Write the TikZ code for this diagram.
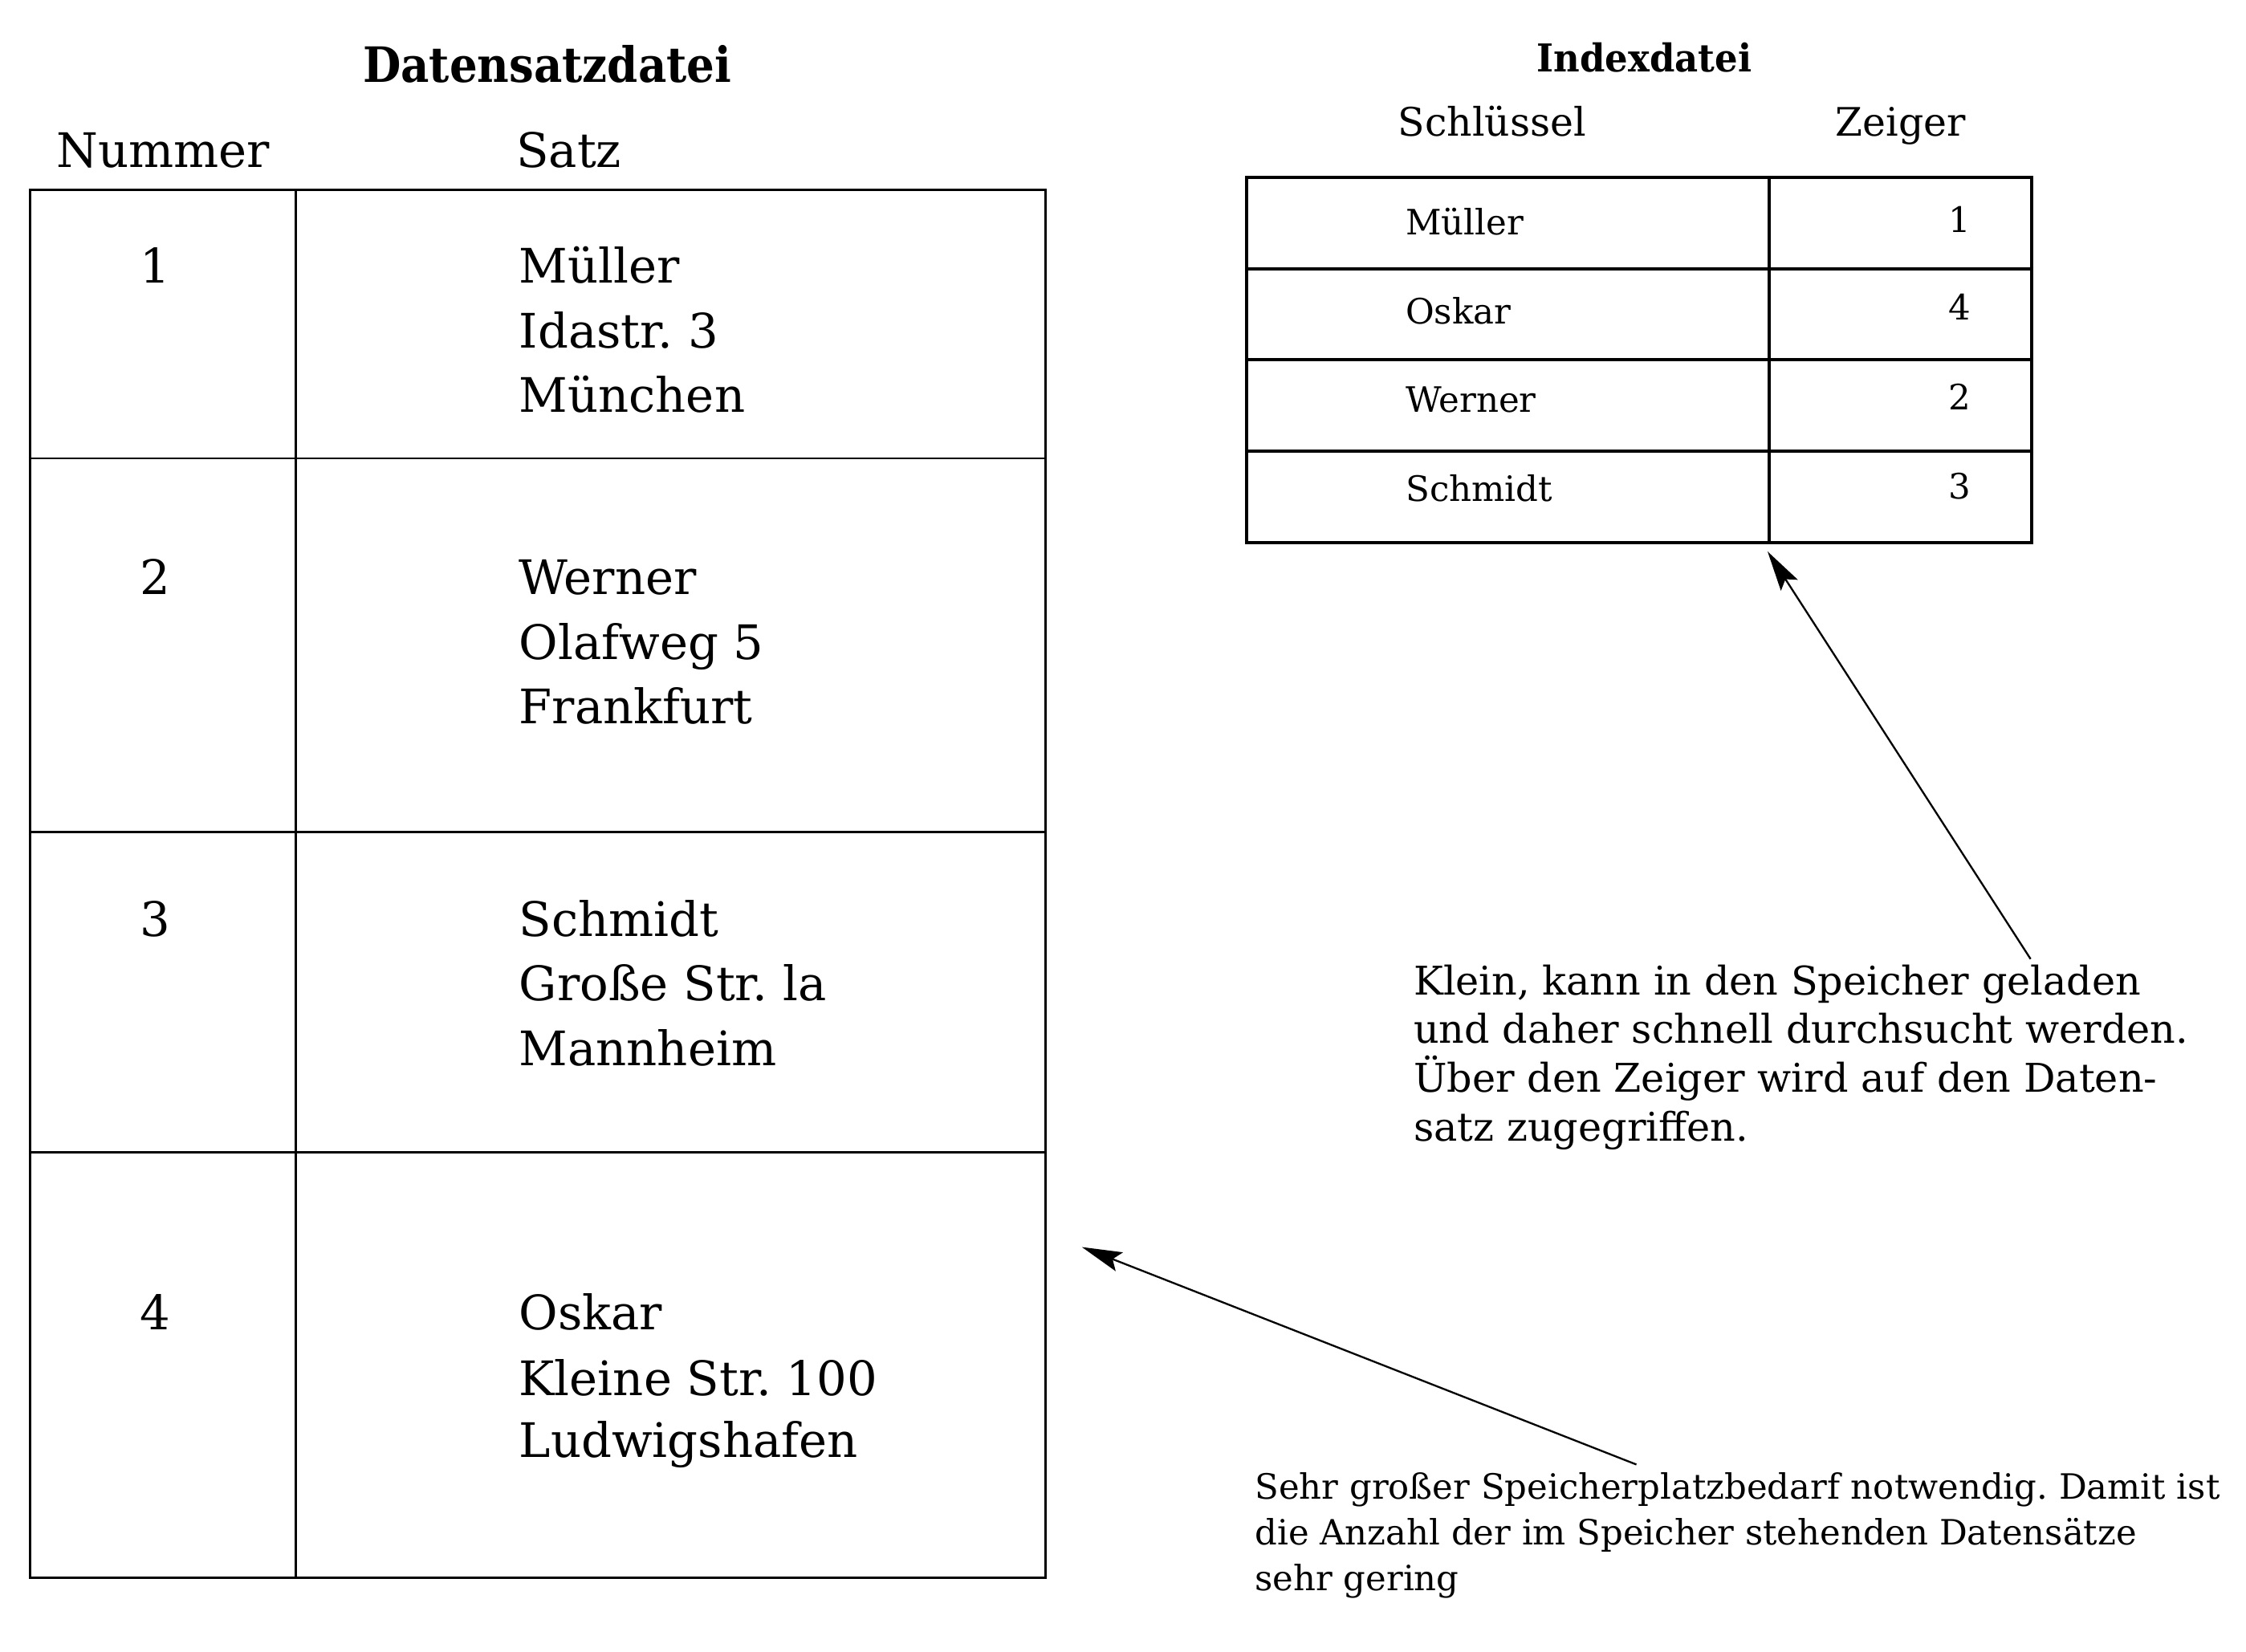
\documentclass[tikz,border=0pt]{standalone}
\usepackage{fontspec}
\setmainfont{DejaVu Serif}
\newfontfamily\titlefont[FakeStretch=0.9]{DejaVu Serif}
\newfontfamily\idxtitlefont[FakeStretch=0.94]{DejaVu Serif}
\usetikzlibrary{arrows.meta}
\frenchspacing
\begin{document}
\begin{tikzpicture}[x=0.5pt,y=-0.5pt,
  cellL/.style={draw, line width=0.8pt, inner sep=0pt, anchor=north west, minimum width=#1},
  cellK/.style={draw, line width=1.1pt, inner sep=0pt, anchor=north west, minimum width=#1, minimum height=31.875pt},
  rec/.style={inner sep=0pt, anchor=base west, font=\fontsize{16.6pt}{22.4pt}\selectfont},
  num/.style={inner sep=0pt, anchor=base, font=\fontsize{16.6pt}{22.4pt}\selectfont},
  key/.style={inner sep=0pt, anchor=base west, font=\fontsize{12.2pt}{15pt}\selectfont},
  ptr/.style={inner sep=0pt, anchor=base, font=\fontsize{12.2pt}{15pt}\selectfont},
  head/.style={inner sep=0pt, anchor=base west, font=\fontsize{13.7pt}{16pt}\selectfont},
  noteA/.style={inner sep=0pt, anchor=base west, font=\fontsize{13.8pt}{17pt}\selectfont},
  noteB/.style={inner sep=0pt, anchor=base west, font=\fontsize{12.15pt}{16pt}\selectfont},
  arr/.style={line width=0.65pt, -{Stealth[length=14pt,width=7pt,inset=2.5pt]}}
]
\useasboundingbox (0,0) rectangle (1568,1153);

% ---------- Datensatzdatei ----------
\node[inner sep=0pt, anchor=base] (title1) at (382,57.6)
  {\fontsize{17pt}{20pt}\titlefont\bfseries Datensatzdatei};
\node[rec] (hNum) at (39,117) {Nummer};
\node[rec] (hSatz) at (360,117) {Satz};

\node[cellL=92.75pt, minimum height=93.7pt]   (n1) at (20,131.8) {};
\node[cellL=261.75pt, minimum height=93.7pt]  (r1) at (205.5,131.8) {};
\node[cellL=92.75pt, minimum height=130.5pt]  (n2) at (20,319.2) {};
\node[cellL=261.75pt, minimum height=130.5pt] (r2) at (205.5,319.2) {};
\node[cellL=92.75pt, minimum height=111.6pt]  (n3) at (20,580.2) {};
\node[cellL=261.75pt, minimum height=111.6pt] (r3) at (205.5,580.2) {};
\node[cellL=92.75pt, minimum height=148.55pt] (n4) at (20,803.4) {};
\node[cellL=261.75pt, minimum height=148.55pt](r4) at (205.5,803.4) {};

\node[num] (k1) at (108.5,197.7) {1};
\node[num] (k2) at (108.5,415.2) {2};
\node[num] (k3) at (108.5,653.8) {3};
\node[num] (k4) at (108.5,928.4) {4};

\node[rec] (r1a) at (362,197.7) {Müller};
\node[rec] (r1b) at (362,242.7) {Idastr. 3};
\node[rec] (r1c) at (362,287.5) {München};

\node[rec] (r2a) at (362,415.2) {Werner};
\node[rec] (r2b) at (362,460.1) {Olafweg 5};
\node[rec] (r2c) at (362,505.2) {Frankfurt};

\node[rec] (r3a) at (362,653.8) {Schmidt};
\node[rec] (r3b) at (362,698.3) {Große Str. la};
\node[rec] (r3c) at (362,743.9) {Mannheim};

\node[rec] (r4a) at (362,928.4) {Oskar};
\node[rec] (r4b) at (362,974) {Kleine Str. 100};
\node[rec] (r4c) at (362,1017.4) {Ludwigshafen};

% ---------- Indexdatei ----------
\node[inner sep=0pt, anchor=base] (title2) at (1148,50)
  {\fontsize{13.4pt}{16pt}\idxtitlefont\bfseries Indexdatei};
\node[head] (hKey) at (975.7,95.2) {Schlüssel};
\node[head] (hPtr) at (1281,95.2) {Zeiger};

\node[cellK=182.5pt]  (i1) at (869,122.7) {};
\node[cellK=91.75pt]  (p1) at (1234,122.7) {};
\node[cellK=182.5pt]  (i2) at (869,186.45) {};
\node[cellK=91.75pt]  (p2) at (1234,186.45) {};
\node[cellK=182.5pt]  (i3) at (869,250.2) {};
\node[cellK=91.75pt]  (p3) at (1234,250.2) {};
\node[cellK=182.5pt]  (i4) at (869,313.95) {};
\node[cellK=91.75pt]  (p4) at (1234,313.95) {};

\node[key] (ik1) at (981,164) {Müller};
\node[key] (ik2) at (981,226) {Oskar};
\node[key] (ik3) at (981,288) {Werner};
\node[key] (ik4) at (981,350) {Schmidt};

\node[ptr] (ip1) at (1368,162) {1};
\node[ptr] (ip2) at (1368,223.5) {4};
\node[ptr] (ip3) at (1368,286) {2};
\node[ptr] (ip4) at (1368,348) {3};

% ---------- Anmerkungen ----------
\node[noteA] (a1) at (986.6,694.6) {Klein, kann in den Speicher geladen};
\node[noteA] (a2) at (986.6,728.4) {und daher schnell durchsucht werden.};
\node[noteA] (a3) at (986.6,762.6) {Über den Zeiger wird auf den Daten-};
\node[noteA] (a4) at (986.6,796.6) {satz zugegriffen.};

\node[noteB] (b1) at (875.8,1046.5) {Sehr großer Speicherplatzbedarf notwendig. Damit ist};
\node[noteB] (b2) at (875.8,1078.5) {die Anzahl der im Speicher stehenden Datensätze};
\node[noteB] (b3) at (875.8,1110.5) {sehr gering};

% ---------- Pfeile ----------
\coordinate (tailA) at (1417.6,669.5);
\coordinate (tipA) at (1234,385);
\coordinate (tailB) at (1142.4,1022.4);
\coordinate (tipB) at (755.3,870.6);
\draw[arr] (tailA) -- (tipA);
\draw[arr] (tailB) -- (tipB);
\end{tikzpicture}
\end{document}
